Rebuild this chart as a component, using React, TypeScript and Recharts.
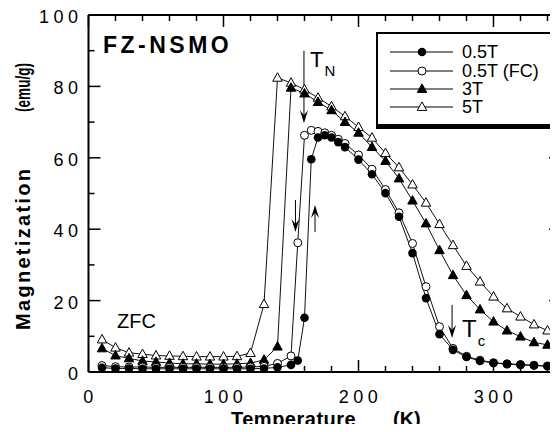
import React from 'react';
import { LineChart, Line, XAxis, YAxis, Legend, ReferenceLine, ReferenceDot } from 'recharts';

// 0.5 T, zero-field cooled (filled circles)
const zfcTemps = [10, 20, 30, 40, 50, 60, 70, 80, 90, 100, 110, 120, 130, 140, 150, 155, 160, 165, 170, 175, 180, 185, 190, 200, 210, 220, 230, 240, 250, 260, 270, 280, 290, 300, 310, 320, 330, 340, 350];
const zfcValues = [1.2, 1.0, 1.0, 0.9, 0.9, 0.9, 0.9, 0.9, 0.9, 0.9, 0.9, 0.9, 1.0, 1.3, 2.0, 3.2, 15.2, 59.6, 65.7, 66.3, 65.7, 64.4, 63.0, 59.5, 55.4, 50.1, 43.5, 33.3, 20.7, 10.6, 6.2, 4.2, 3.1, 2.5, 2.2, 2.0, 1.8, 1.6, 1.5];

// 0.5 T, field cooled (open circles)
const fcTemps = [10, 20, 30, 40, 50, 60, 70, 80, 90, 100, 110, 120, 130, 140, 150, 155, 160, 165, 170, 175, 180, 185, 190, 200, 210, 220, 230, 240, 250, 260, 270, 280, 290, 300, 310, 320, 330, 340, 350];
const fcValues = [1.8, 1.5, 1.4, 1.4, 1.3, 1.3, 1.3, 1.3, 1.3, 1.3, 1.3, 1.4, 1.6, 2.4, 4.5, 36.2, 66.3, 67.7, 67.4, 67.0, 66.3, 65.2, 64.0, 60.8, 56.8, 51.1, 44.6, 36.0, 23.9, 12.7, 6.6, 4.4, 3.3, 2.6, 2.3, 2.1, 1.9, 1.7, 1.6];

// 3 T (filled triangles)
const t3Temps = [10, 20, 30, 40, 50, 60, 70, 80, 90, 100, 110, 120, 130, 140, 150, 160, 170, 180, 190, 200, 210, 220, 230, 240, 250, 260, 270, 280, 290, 300, 310, 320, 330, 340, 350];
const t3Values = [6.6, 4.6, 3.8, 3.1, 2.8, 2.5, 2.3, 2.3, 2.2, 2.2, 2.3, 2.5, 3.4, 7.1, 79.6, 78.0, 75.6, 73.3, 70.0, 67.0, 63.0, 59.1, 54.2, 48.0, 41.6, 34.1, 27.1, 21.5, 17.5, 14.1, 11.6, 9.9, 8.3, 7.6, 7.0];

// 5 T (open triangles)
const t5Temps = [10, 20, 30, 40, 50, 60, 70, 80, 90, 100, 110, 120, 130, 140, 150, 160, 170, 180, 190, 200, 210, 220, 230, 240, 250, 260, 270, 280, 290, 300, 310, 320, 330, 340, 350];
const t5Values = [9.1, 6.8, 5.4, 5.0, 4.6, 4.5, 4.4, 4.3, 4.3, 4.3, 4.4, 5.3, 19.0, 82.4, 81.0, 79.1, 76.8, 74.4, 71.6, 68.6, 65.6, 61.3, 57.3, 52.5, 47.4, 41.4, 35.5, 29.7, 25.3, 21.1, 17.8, 15.5, 13.3, 11.6, 10.5];

const xTicks = [0, 20, 40, 60, 80, 100, 120, 140, 160, 180, 200, 220, 240, 260, 280, 300, 320, 340];
const yTicks = [0, 10, 20, 30, 40, 50, 60, 70, 80, 90, 100];
const legendOrder = ['0.5T', '0.5T (FC)', '3T', '5T'];

const FONT = '"Liberation Sans", Arial, Helvetica, sans-serif';

// plot frame (chart is 572 wide, clipped to 558 by the wrapper so the right edge is cut like the scan)
const CHART_W = 572;
const CHART_H = 432;
const MARGIN = { top: 15, right: 11, bottom: 0, left: 0 };
const Y_AXIS_W = 88.5;
const X_AXIS_H = 60;
const PLOT_LEFT = MARGIN.left + Y_AXIS_W;
const PLOT_RIGHT = CHART_W - MARGIN.right;
const PLOT_TOP = MARGIN.top;
const PLOT_BOTTOM = CHART_H - MARGIN.bottom - X_AXIS_H;

type Kind = 'dot' | 'circle' | 'tri' | 'openTri';

const toPoints = (ts: number[], ms: number[]) => ts.map((t, i) => ({ t, m: ms[i] }));

const series: { name: string; kind: Kind; data: { t: number; m: number }[] }[] = [
  { name: '5T', kind: 'openTri', data: toPoints(t5Temps, t5Values) },
  { name: '3T', kind: 'tri', data: toPoints(t3Temps, t3Values) },
  { name: '0.5T (FC)', kind: 'circle', data: toPoints(fcTemps, fcValues) },
  { name: '0.5T', kind: 'dot', data: toPoints(zfcTemps, zfcValues) },
];

function Marker({ cx, cy, kind }: { cx: number; cy: number; kind: Kind }) {
  if (cx == null || cy == null) return null;
  if (kind === 'dot') return <circle cx={cx} cy={cy} r={4.3} fill="#000" />;
  if (kind === 'circle') return <circle cx={cx} cy={cy} r={4} fill="#fff" stroke="#000" strokeWidth={1} />;
  const w = 9.5;
  const h = 8.5;
  const pts = `${cx},${cy - h * 0.6} ${cx - w / 2},${cy + h * 0.4} ${cx + w / 2},${cy + h * 0.4}`;
  return <polygon points={pts} fill={kind === 'tri' ? '#000' : '#fff'} stroke="#000" strokeWidth={1} />;
}

// inward ticks on both bottom and top edges; x comes from the axis scale
const XTick = (props: any) => {
  const { payload } = props;
  const x = payload.coordinate;
  const major = payload.value % 100 === 0;
  const len = major ? 12 : 6;
  return (
    <g>
      <line x1={x} x2={x} y1={PLOT_BOTTOM} y2={PLOT_BOTTOM - len} stroke="#000" strokeWidth={1.5} />
      <line x1={x} x2={x} y1={PLOT_TOP} y2={PLOT_TOP + len} stroke="#000" strokeWidth={1.5} />
      {major && (
        <text x={x + 2} y={PLOT_BOTTOM + 31} textAnchor="middle" fontFamily={FONT} fontSize={18} letterSpacing={4.5} fill="#000">
          {payload.value}
        </text>
      )}
    </g>
  );
};

// inward ticks on both left and right edges; y comes from the axis scale
const YTick = (props: any) => {
  const { payload } = props;
  const y = payload.coordinate;
  const major = payload.value % 20 === 0;
  const len = major ? 12 : 6;
  return (
    <g>
      <line x1={PLOT_LEFT} x2={PLOT_LEFT + len} y1={y} y2={y} stroke="#000" strokeWidth={1.5} />
      <line x1={PLOT_RIGHT} x2={PLOT_RIGHT - len} y1={y} y2={y} stroke="#000" strokeWidth={1.5} />
      {major && (
        <text x={PLOT_LEFT - 6} y={y + 8} textAnchor="end" fontFamily={FONT} fontSize={18} letterSpacing={4.5} fill="#000">
          {payload.value}
        </text>
      )}
    </g>
  );
};

const Arrow = (props: any) => {
  const { x1, y1, x2, y2 } = props;
  const dx = x2 - x1;
  const dy = y2 - y1;
  const len = Math.sqrt(dx * dx + dy * dy) || 1;
  const ux = dx / len;
  const uy = dy / len;
  const bx = x2 - ux * 13;
  const by = y2 - uy * 13;
  const nx = x2 - ux * 8;
  const ny = y2 - uy * 8;
  const head = `M${x2},${y2} L${bx - uy * 4},${by + ux * 4} L${nx},${ny} L${bx + uy * 4},${by - ux * 4} Z`;
  return (
    <g>
      <line x1={x1} y1={y1} x2={nx} y2={ny} stroke="#000" strokeWidth={1} />
      <path d={head} fill="#000" />
    </g>
  );
};

const textShape = (label: string, size: number, bold = false, spacing = 0, sub?: string) => (p: any) => (
  <text x={p.cx} y={p.cy} fontFamily={FONT} fontSize={size} fontWeight={bold ? 'bold' : 'normal'} letterSpacing={spacing} fill="#000">
    {label}
    {sub && (
      <tspan dx={1} dy={9} fontSize={15}>
        {sub}
      </tspan>
    )}
  </text>
);

const LegendBox = () => (
  <div
    style={{
      boxSizing: 'border-box',
      width: 240,
      height: 97,
      border: '2px solid #000',
      borderRightWidth: 5,
      borderBottomWidth: 5,
      background: '#fff',
      paddingTop: 9,
      fontFamily: FONT,
      fontSize: 18,
      color: '#000',
    }}
  >
    {legendOrder.map((name) => {
      const s = series.find((d) => d.name === name)!;
      return (
        <div key={name} style={{ display: 'flex', alignItems: 'center', height: 18.4, lineHeight: '18px' }}>
          <svg width={84} height={18} style={{ flex: 'none' }}>
            <line x1={12} x2={75} y1={9} y2={9} stroke="#000" strokeWidth={1} />
            <Marker cx={44} cy={9} kind={s.kind} />
          </svg>
          <span>{name}</span>
        </div>
      );
    })}
  </div>
);

const XTitle = () => (
  <text y={426} fontFamily={FONT} fontSize={20} fontWeight="bold" fill="#000">
    <tspan x={231} letterSpacing={0.5}>Temperature</tspan>
    <tspan x={393}>(K)</tspan>
  </text>
);

const YTitle = () => (
  <g fontFamily={FONT} fontSize={20} fontWeight="bold" fill="#000">
    <text x={30} y={330} transform="rotate(-90, 30, 330)" letterSpacing={2.3}>Magnetization</text>
    <text x={30} y={112} transform="rotate(-90, 30, 112)" textLength={49} lengthAdjust="spacingAndGlyphs">(emu/g)</text>
  </g>
);

export default function App() {
  return (
    <div style={{ margin: -8, width: 558, height: 432, overflow: 'hidden', position: 'relative', background: '#fff' }}>
      <LineChart width={CHART_W} height={CHART_H} margin={MARGIN}>
        <XAxis
          xAxisId="b"
          dataKey="t"
          type="number"
          domain={[0, 350]}
          allowDataOverflow
          ticks={xTicks}
          interval={0}
          height={X_AXIS_H}
          tickSize={0}
          tickMargin={0}
          tick={<XTick />}
          axisLine={{ stroke: '#000', strokeWidth: 2 }}
          label={{ content: XTitle }}
        />
        <YAxis
          yAxisId="l"
          type="number"
          domain={[0, 100]}
          allowDataOverflow
          ticks={yTicks}
          interval={0}
          width={Y_AXIS_W}
          tickSize={0}
          tickMargin={0}
          tick={<YTick />}
          axisLine={{ stroke: '#000', strokeWidth: 2 }}
          label={{ content: YTitle }}
        />
        {/* top and right frame */}
        <ReferenceLine xAxisId="b" yAxisId="l" y={100} stroke="#000" strokeWidth={2} />
        <ReferenceLine xAxisId="b" yAxisId="l" x={350} stroke="#000" strokeWidth={2} />
        {series.map((s) => (
          <Line
            key={s.name}
            xAxisId="b"
            yAxisId="l"
            data={s.data}
            dataKey="m"
            name={s.name}
            type="linear"
            stroke="#111"
            strokeWidth={1}
            isAnimationActive={false}
            dot={(p: any) => <Marker key={`${s.name}-${p.index}`} cx={p.cx} cy={p.cy} kind={s.kind} />}
            activeDot={false}
          />
        ))}
        <ReferenceLine xAxisId="b" yAxisId="l" segment={[{ x: 159.6, y: 90 }, { x: 159.6, y: 69.7 }]} shape={Arrow} />
        <ReferenceLine xAxisId="b" yAxisId="l" segment={[{ x: 153.3, y: 48.2 }, { x: 153.3, y: 39.2 }]} shape={Arrow} />
        <ReferenceLine xAxisId="b" yAxisId="l" segment={[{ x: 167.8, y: 39.2 }, { x: 167.8, y: 46.8 }]} shape={Arrow} />
        <ReferenceLine xAxisId="b" yAxisId="l" segment={[{ x: 269.3, y: 18.8 }, { x: 269.3, y: 9.5 }]} shape={Arrow} />
        <ReferenceDot xAxisId="b" yAxisId="l" x={10.7} y={89.4} shape={textShape('FZ-NSMO', 23, true, 3.5)} />
        <ReferenceDot xAxisId="b" yAxisId="l" x={21.1} y={12.3} shape={textShape('ZFC', 20)} />
        <ReferenceDot xAxisId="b" yAxisId="l" x={164.1} y={85.4} shape={textShape('T', 22, false, 0, 'N')} />
        <ReferenceDot xAxisId="b" yAxisId="l" x={276.7} y={9.8} shape={textShape('T', 24, false, 0, 'c')} />
        <Legend
          layout="vertical"
          align="center"
          verticalAlign="middle"
          wrapperStyle={{ left: 376, top: 32, width: 240, height: 97 }}
          content={() => <LegendBox />}
        />
      </LineChart>
    </div>
  );
}
